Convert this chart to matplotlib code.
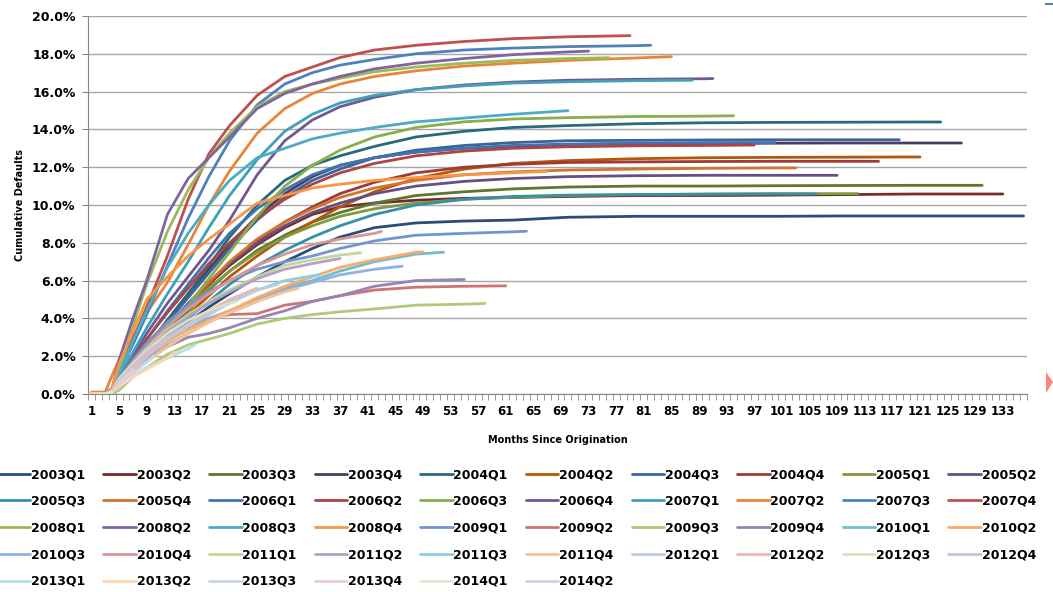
import matplotlib
matplotlib.use("Agg")
import matplotlib.pyplot as plt
from matplotlib.patches import Polygon
from matplotlib.lines import Line2D
from matplotlib.ticker import FuncFormatter

MONTH_GRID = [1, 3, 4, 5, 7, 9, 12, 15, 18, 21, 25, 29, 33, 37, 42, 48, 55,
              62, 70, 80, 90, 100, 110, 120, 130]

VINTAGES = ["2003Q1", "2003Q2", "2003Q3", "2003Q4", "2004Q1", "2004Q2",
            "2004Q3", "2004Q4", "2005Q1", "2005Q2", "2005Q3", "2005Q4",
            "2006Q1", "2006Q2", "2006Q3", "2006Q4", "2007Q1", "2007Q2",
            "2007Q3", "2007Q4", "2008Q1", "2008Q2", "2008Q3", "2008Q4",
            "2009Q1", "2009Q2", "2009Q3", "2009Q4", "2010Q1", "2010Q2",
            "2010Q3", "2010Q4", "2011Q1", "2011Q2", "2011Q3", "2011Q4",
            "2012Q1", "2012Q2", "2012Q3", "2012Q4", "2013Q1", "2013Q2",
            "2013Q3", "2013Q4", "2014Q1", "2014Q2"]

# last month observed for each vintage
LAST_MONTH = [136, 133, 130, 127, 124, 121, 118, 115, 112, 109, 106, 103,
              100, 97, 94, 91, 88, 85, 82, 79, 76, 73, 70, 67, 64, 61, 58,
              55, 52, 49, 46, 43, 40, 37, 34, 31, 28, 25, 22, 19, 16, 13,
              10, 7, 4, 1]

# cumulative defaults (%) at MONTH_GRID points below LAST_MONTH, then at LAST_MONTH
DEFAULTS = [
    [0, 0, 0.1, 0.5, 1.2, 1.9, 2.9, 3.8, 4.6, 5.3, 6.2, 7.0, 7.7, 8.3, 8.8, 9.05, 9.15, 9.2, 9.35, 9.4, 9.4, 9.4, 9.42, 9.42, 9.42, 9.42],
    [0, 0, 0.1, 0.6, 1.4, 2.3, 3.5, 4.7, 5.8, 6.8, 7.9, 8.8, 9.5, 9.9, 10.1, 10.25, 10.35, 10.4, 10.45, 10.5, 10.5, 10.52, 10.55, 10.58, 10.58, 10.58],
    [0, 0, 0.1, 0.5, 1.3, 2.1, 3.3, 4.4, 5.5, 6.5, 7.6, 8.4, 9.1, 9.6, 10.1, 10.5, 10.7, 10.85, 10.95, 11.0, 11.0, 11.02, 11.03, 11.04, 11.04],
    [0, 0, 0.1, 0.6, 1.5, 2.5, 3.9, 5.3, 6.6, 7.9, 9.4, 10.6, 11.5, 12.1, 12.5, 12.8, 13.0, 13.1, 13.2, 13.25, 13.25, 13.27, 13.28, 13.28, 13.28],
    [0, 0, 0.1, 0.6, 1.5, 2.5, 3.9, 5.3, 6.8, 8.3, 10.0, 11.3, 12.1, 12.6, 13.1, 13.6, 13.9, 14.1, 14.2, 14.3, 14.35, 14.37, 14.38, 14.39, 14.39],
    [0, 0, 0.1, 0.5, 1.2, 2.0, 3.1, 4.2, 5.2, 6.2, 7.3, 8.3, 9.1, 9.9, 10.7, 11.4, 11.9, 12.2, 12.35, 12.45, 12.5, 12.52, 12.53, 12.54, 12.54],
    [0, 0, 0.1, 0.6, 1.5, 2.5, 3.8, 5.1, 6.4, 7.7, 9.2, 10.4, 11.3, 11.9, 12.5, 12.9, 13.15, 13.3, 13.4, 13.42, 13.44, 13.45, 13.45, 13.45],
    [0, 0, 0.1, 0.5, 1.3, 2.2, 3.4, 4.6, 5.8, 6.9, 8.1, 9.1, 9.9, 10.6, 11.2, 11.7, 12.0, 12.15, 12.25, 12.28, 12.3, 12.31, 12.31, 12.31],
    [0, 0, 0.1, 0.6, 1.4, 2.3, 3.5, 4.6, 5.6, 6.5, 7.5, 8.3, 8.9, 9.4, 9.8, 10.1, 10.3, 10.4, 10.5, 10.55, 10.58, 10.6, 10.6, 10.6],
    [0, 0, 0.1, 0.6, 1.5, 2.4, 3.6, 4.8, 5.9, 6.9, 8.0, 8.9, 9.6, 10.1, 10.6, 11.0, 11.25, 11.4, 11.5, 11.55, 11.57, 11.57, 11.57],
    [0, 0, 0.1, 0.5, 1.2, 2.0, 3.0, 4.0, 4.9, 5.8, 6.8, 7.6, 8.3, 8.9, 9.5, 10.0, 10.3, 10.45, 10.52, 10.55, 10.57, 10.58, 10.58],
    [0, 0, 0.1, 0.6, 1.4, 2.3, 3.5, 4.7, 5.9, 7.0, 8.2, 9.1, 9.8, 10.4, 10.9, 11.3, 11.6, 11.75, 11.85, 11.9, 11.94, 11.96, 11.96],
    [0, 0, 0.2, 0.8, 1.8, 2.9, 4.4, 5.8, 7.2, 8.5, 9.8, 10.8, 11.6, 12.1, 12.5, 12.8, 13.0, 13.15, 13.22, 13.27, 13.3, 13.3],
    [0, 0, 0.2, 0.8, 1.8, 2.9, 4.3, 5.6, 6.9, 8.0, 9.3, 10.3, 11.1, 11.7, 12.2, 12.6, 12.85, 13.0, 13.08, 13.13, 13.15, 13.17],
    [0, 0, 0.1, 0.6, 1.5, 2.4, 3.5, 4.7, 6.1, 7.5, 9.4, 11.0, 12.1, 12.9, 13.6, 14.1, 14.4, 14.55, 14.62, 14.68, 14.7, 14.72],
    [0, 0, 0.2, 0.9, 2.0, 3.2, 4.8, 6.2, 7.6, 9.2, 11.6, 13.4, 14.5, 15.2, 15.7, 16.1, 16.35, 16.5, 16.6, 16.65, 16.68, 16.69],
    [0, 0, 0.2, 1.0, 2.2, 3.5, 5.3, 7.0, 8.8, 10.5, 12.4, 13.9, 14.8, 15.4, 15.8, 16.1, 16.3, 16.45, 16.52, 16.58, 16.6],
    [0.1, 0.1, 1.0, 1.8, 3.0, 4.3, 5.9, 7.9, 10.0, 11.8, 13.8, 15.1, 15.9, 16.4, 16.8, 17.1, 17.35, 17.5, 17.65, 17.78, 17.85],
    [0, 0, 0.3, 1.2, 2.6, 4.2, 6.8, 9.3, 11.5, 13.4, 15.3, 16.4, 17.0, 17.4, 17.7, 18.0, 18.2, 18.3, 18.38, 18.43, 18.45],
    [0, 0, 0.3, 1.3, 2.9, 4.6, 7.3, 10.3, 12.7, 14.2, 15.8, 16.8, 17.3, 17.8, 18.2, 18.45, 18.65, 18.8, 18.9, 18.96],
    [0, 0, 0.2, 1.2, 3.6, 5.8, 8.6, 10.8, 12.5, 13.8, 15.2, 16.0, 16.4, 16.7, 17.05, 17.3, 17.5, 17.65, 17.75, 17.79],
    [0, 0, 0.3, 1.8, 4.0, 6.0, 9.5, 11.4, 12.5, 13.6, 15.1, 15.9, 16.4, 16.8, 17.2, 17.5, 17.75, 17.95, 18.1, 18.14],
    [0, 0, 0.2, 1.1, 2.8, 4.4, 6.7, 8.5, 10.0, 11.3, 12.5, 13.0, 13.5, 13.8, 14.1, 14.4, 14.6, 14.8, 14.99],
    [0, 0, 0.3, 1.6, 3.3, 5.0, 6.2, 7.3, 8.2, 9.0, 10.1, 10.5, 10.9, 11.1, 11.3, 11.45, 11.6, 11.7, 11.78],
    [0, 0, 0.2, 0.8, 1.8, 2.7, 3.8, 4.7, 5.4, 6.0, 6.6, 7.0, 7.3, 7.7, 8.1, 8.4, 8.5, 8.58, 8.61],
    [0, 0, 0.1, 0.6, 1.4, 2.1, 3.0, 3.6, 4.0, 4.2, 4.25, 4.7, 4.9, 5.2, 5.5, 5.65, 5.7, 5.72],
    [0, 0, 0, 0.2, 0.9, 1.4, 2.1, 2.6, 2.9, 3.2, 3.7, 4.0, 4.2, 4.35, 4.5, 4.7, 4.75, 4.79],
    [0, 0, 0.1, 0.5, 1.2, 1.8, 2.5, 3.0, 3.2, 3.5, 4.0, 4.4, 4.9, 5.2, 5.7, 6.0, 6.06],
    [0, 0, 0.1, 0.6, 1.3, 2.0, 2.8, 3.5, 4.0, 4.4, 5.0, 5.6, 6.0, 6.5, 7.0, 7.4, 7.5],
    [0, 0, 0.1, 0.6, 1.3, 2.0, 2.8, 3.4, 3.9, 4.4, 5.1, 5.7, 6.2, 6.7, 7.1, 7.5, 7.52],
    [0, 0, 0.1, 0.5, 1.2, 1.8, 2.6, 3.2, 3.8, 4.3, 4.9, 5.5, 5.9, 6.3, 6.6, 6.76],
    [0, 0, 0.2, 0.8, 1.7, 2.5, 3.6, 4.5, 5.3, 6.0, 6.8, 7.4, 7.9, 8.2, 8.5, 8.6],
    [0, 0, 0.2, 0.8, 1.6, 2.4, 3.4, 4.2, 4.9, 5.5, 6.2, 6.8, 7.1, 7.35, 7.47],
    [0, 0, 0.2, 0.8, 1.6, 2.3, 3.3, 4.1, 4.8, 5.4, 6.1, 6.6, 6.9, 7.17],
    [0, 0, 0.1, 0.6, 1.3, 2.0, 2.9, 3.6, 4.3, 4.9, 5.5, 6.0, 6.25, 6.3],
    [0, 0, 0.1, 0.5, 1.1, 1.7, 2.5, 3.2, 3.8, 4.3, 4.9, 5.4, 5.6],
    [0, 0, 0.1, 0.6, 1.3, 2.0, 2.9, 3.6, 4.2, 4.8, 5.5, 5.8],
    [0, 0, 0.1, 0.6, 1.3, 2.0, 2.9, 3.7, 4.4, 5.0, 5.6],
    [0, 0, 0.2, 0.8, 1.6, 2.3, 3.2, 3.9, 4.4, 4.8, 4.9],
    [0, 0, 0.2, 0.7, 1.5, 2.2, 3.0, 3.7, 4.2, 4.4],
    [0, 0, 0.1, 0.4, 0.9, 1.4, 1.9, 2.4, 2.6],
    [0, 0, 0.1, 0.4, 0.9, 1.3, 1.9, 2.2],
    [0, 0, 0.1, 0.5, 1.1, 1.7, 2.0],
    [0, 0, 0.1, 0.6, 1.3],
    [0, 0, 0.1],
    [0],
]

COLORS = [
    "#2C4D75", "#772C2A", "#5F7530", "#4D3B62", "#276A7C", "#B65708",
    "#3A669C", "#9E3B38", "#7E9B40", "#664F82", "#3890A8", "#D2742D",
    "#4472B0", "#AE4542", "#8AAE4C", "#71588F", "#40A0BA", "#E9853A",
    "#4F81BD", "#C0504D", "#9BBB59", "#8064A2", "#4BACC6", "#F79646",
    "#7196CF", "#CD7371", "#AFC97A", "#9983B5", "#6FBDD1", "#F9AB6B",
    "#95B3D7", "#D99694", "#C3D69B", "#B3A2C7", "#93CDDD", "#FAC090",
    "#B9CDE5", "#E6B9B8", "#D7E4BD", "#CCC1DA", "#B7DEE8", "#FCD5B5",
    "#C9D5EB", "#EBCDCC", "#DEEACD", "#D8CEE3",
]

FONT = "DejaVu Sans"
NCOL = 10

fig = plt.figure(figsize=(10.53, 5.92), dpi=100)
ax = fig.add_axes([0.0836, 0.3345, 0.8917, 0.6385])

handles = []
for name, last, vals, color in zip(VINTAGES, LAST_MONTH, DEFAULTS, COLORS):
    months = [g for g in MONTH_GRID if g < last] + [last]
    assert len(months) == len(vals), name
    line, = ax.plot(months, vals, color=color, lw=2.0, label=name,
                    solid_capstyle="round", solid_joinstyle="round")
    handles.append(line)

ax.set_xlim(0.5, 136.5)
ax.set_ylim(0, 20)
ax.set_yticks(range(0, 21, 2))
ax.yaxis.set_major_formatter(FuncFormatter(lambda v, p: f"{v:.1f}%"))
ax.yaxis.grid(True, color="#A6A6A6", lw=1.0)
ax.set_axisbelow(True)

ax.set_xticks(range(1, 137, 4))
ax.set_xticks([m + 0.5 for m in range(0, 137)], minor=True)
ax.tick_params(axis="x", which="major", length=0, pad=8, labelsize=8.5)
ax.tick_params(axis="x", which="minor", length=4, color="#868686")
ax.tick_params(axis="y", length=4, color="#868686", labelsize=9, pad=5)
for lab in ax.get_xticklabels() + ax.get_yticklabels():
    lab.set_fontweight("bold")
    lab.set_fontfamily(FONT)

for side in ("top", "right"):
    ax.spines[side].set_visible(False)
for side in ("left", "bottom"):
    ax.spines[side].set_color("#868686")

ax.set_xlabel("Months Since Origination", fontsize=7, fontweight="bold",
              family=FONT, labelpad=12)
ax.set_ylabel("Cumulative Defaults", fontsize=7, fontweight="bold",
              family=FONT, labelpad=5)

# legend reads row by row like Excel: reorder for matplotlib's column filling
order = []
for c in range(NCOL):
    order += [r * NCOL + c for r in range(5) if r * NCOL + c < len(handles)]
fig.legend([handles[i] for i in order], [VINTAGES[i] for i in order],
           loc="upper left", bbox_to_anchor=(-0.002, 1 - 468 / 592), ncol=NCOL,
           frameon=False, prop={"family": FONT, "weight": "bold", "size": 9},
           handlelength=2.6, handletextpad=0.05, columnspacing=1.45,
           labelspacing=1.1, borderaxespad=0, borderpad=0)

# bits of neighbouring chart furniture at the right edge
fig.add_artist(Polygon([[1046 / 1053, 1 - 372 / 592], [1053 / 1053, 1 - 382 / 592],
                        [1046 / 1053, 1 - 393 / 592]], closed=True,
                       transform=fig.transFigure, color="#FF8080", lw=0))
fig.add_artist(Line2D([1046 / 1053, 1.0], [1 - 4 / 592, 1 - 4 / 592],
                      transform=fig.transFigure, color="#4F81BD", lw=1.5))

fig.savefig("out.png", dpi=100)
